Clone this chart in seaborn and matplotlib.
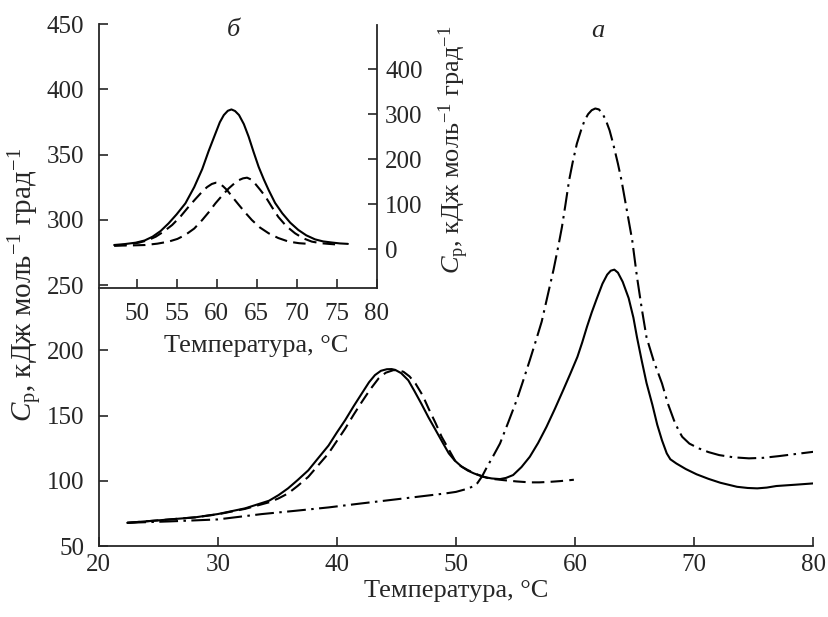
import numpy as np
import pandas as pd
import matplotlib
matplotlib.use("Agg")
import matplotlib.pyplot as plt
import seaborn as sns

# ---- main panel (а): heat capacity vs temperature ----
main_solid_t = [22.4, 25.3, 28.1, 30.0, 32.3, 34.3, 35.1, 35.9, 36.7, 37.6, 38.4, 39.3,
                40.0, 40.7, 41.4, 42.1, 42.7, 43.2, 43.7, 44.2, 44.6, 44.9, 45.4, 46.0,
                46.5, 47.1, 47.7, 48.3, 48.9, 49.4, 49.9, 50.5, 51.0, 51.5, 52.3, 53.0,
                53.7, 54.2, 54.8, 55.5, 56.2, 56.9, 57.6, 58.3, 59.0, 59.6, 60.2, 60.6,
                61.0, 61.4, 61.8, 62.3, 62.7, 63.0, 63.3, 63.6, 64.0, 64.5, 64.9, 65.2,
                65.6, 66.0, 66.5, 66.9, 67.3, 67.7, 68.0, 68.5, 69.3, 70.2, 71.2, 72.2,
                73.6, 74.5, 75.3, 76.1, 76.9, 78.5, 80.0]
main_solid_cp = [67.8, 69.9, 72.0, 74.5, 78.9, 84.7, 89.0, 94.2, 100.5, 108.0, 117.0, 127.0,
                 137.0, 146.5, 157.0, 167.0, 175.5, 181.0, 184.3, 185.5, 185.6, 185.0, 182.5, 177.0,
                 169.0, 159.0, 148.5, 138.8, 129.0, 121.0, 115.5, 110.7, 107.8, 105.7, 103.0, 101.8,
                 101.3, 102.2, 104.4, 110.5, 118.4, 129.0, 141.3, 155.0, 169.4, 182.0, 195.0, 206.0,
                 218.0, 229.0, 239.0, 251.0, 258.0, 261.0, 261.8, 259.5, 252.5, 240.0, 225.0, 210.0,
                 192.0, 175.0, 158.0, 143.0, 131.0, 121.0, 116.5, 113.3, 109.0, 105.0, 101.5, 98.5,
                 95.4, 94.5, 94.2, 94.8, 96.0, 97.0, 98.0]

main_dash_t = [22.4, 25.3, 28.1, 30.0, 32.3, 34.3, 35.1, 35.9, 36.7, 37.6, 38.4, 39.3,
               40.0, 40.7, 41.4, 42.1, 42.8, 43.5, 44.1, 44.75, 45.2, 45.6, 46.1, 46.6,
               47.2, 47.7, 48.3, 48.8, 49.4, 49.9, 50.4, 51.0, 51.8, 52.6, 53.3, 54.0,
               55.1, 56.2, 57.0, 57.9, 58.8, 59.9]
main_dash_cp = [67.8, 69.9, 72.0, 74.3, 78.5, 83.5, 86.5, 90.3, 96.0, 103.0, 111.5, 121.0,
                130.5, 140.0, 150.5, 160.5, 170.0, 178.4, 182.8, 184.8, 184.6, 183.5, 180.0, 174.6,
                165.5, 155.4, 144.0, 133.7, 124.0, 115.8, 111.3, 108.2, 104.8, 102.3, 101.2, 100.5,
                99.5, 98.8, 98.8, 99.2, 99.8, 100.8]

main_dd_t = [22.4, 26.0, 30.0, 33.7, 36.5, 39.3, 42.0, 44.9, 47.0, 49.1, 50.0, 50.6,
             51.0, 51.4, 51.8, 52.2, 52.6, 53.1, 53.7, 54.4, 55.1, 55.6, 56.2, 56.7,
             57.2, 57.7, 58.2, 58.6, 58.9, 59.2, 59.5, 59.8, 60.15, 60.5, 60.8, 61.1,
             61.4, 61.7, 62.0, 62.3, 62.6, 62.9, 63.2, 63.6, 63.9, 64.3, 64.8, 65.2,
             65.6, 66.0, 66.6, 67.3, 67.8, 68.3, 68.7, 69.0, 69.6, 70.4, 71.2, 72.1,
             73.3, 74.6, 75.8, 77.1, 78.5, 80.0]
main_dd_cp = [67.8, 68.9, 70.4, 74.5, 77.0, 79.6, 82.6, 85.7, 88.0, 90.3, 91.5, 93.0,
              94.0, 95.6, 98.2, 103.5, 110.5, 118.5, 128.6, 145.0, 161.8, 175.5, 192.4, 207.0,
              222.0, 242.0, 262.0, 280.0, 294.5, 312.0, 330.2, 344.0, 358.3, 368.5, 376.2, 381.0,
              384.0, 385.3, 384.6, 381.5, 376.0, 368.5, 358.3, 343.0, 330.2, 309.8, 284.3, 256.3,
              232.0, 210.0, 192.0, 174.6, 159.0, 146.5, 138.5, 133.7, 128.5, 124.8, 122.0, 119.7,
              118.0, 117.2, 117.6, 118.9, 120.5, 122.2]

# ---- inset (б): total excess heat capacity and its two components ----
ins_solid_t = [47.2, 48.5, 49.9, 51.0, 52.0, 53.0, 54.0, 55.0, 56.1, 57.2, 58.2, 59.0,
               59.85, 60.4, 60.9, 61.4, 61.85, 62.3, 62.8, 63.4, 64.0, 64.6, 65.25, 65.9,
               66.5, 67.3, 68.2, 69.2, 70.2, 71.2, 72.3, 73.3, 74.4, 75.4, 76.4]
ins_solid_cp = [9.5, 11.5, 14.7, 19.5, 28.0, 40.5, 57.6, 77.5, 102.0, 138.0, 178.0, 218.0,
                257.0, 282.0, 298.0, 307.5, 310.5, 307.0, 298.0, 278.0, 250.0, 217.0, 183.0, 155.0,
                131.5, 103.0, 80.0, 59.0, 43.0, 31.0, 22.0, 17.5, 15.0, 13.0, 12.0]

ins_dash1_t = [47.2, 48.8, 50.3, 51.4, 52.4, 53.4, 54.45, 55.5, 56.5, 57.4, 58.2, 58.8,
               59.4, 59.9, 60.3, 60.8, 61.3, 62.0, 62.8, 63.6, 64.4, 65.4, 66.5, 67.7,
               69.0, 70.3, 71.5]
ins_dash1_cp = [8.0, 10.5, 14.7, 20.0, 28.0, 39.5, 54.0, 73.0, 94.5, 112.5, 128.0, 138.0,
                145.0, 147.8, 147.0, 140.0, 131.5, 115.5, 98.0, 81.0, 65.0, 48.5, 35.5, 25.0,
                17.0, 13.5, 12.0]

ins_dash2_t = [47.2, 49.2, 51.1, 52.6, 54.0, 55.1, 56.1, 57.2, 58.2, 59.0, 59.85, 60.7,
               61.5, 62.2, 62.8, 63.3, 63.8, 64.3, 64.8, 65.4, 66.1, 66.9, 67.7, 68.7,
               69.8, 70.8, 71.9, 73.0, 74.0, 75.5]
ins_dash2_cp = [8.0, 8.5, 9.5, 12.5, 17.0, 23.0, 32.0, 46.0, 65.0, 82.0, 102.0, 119.5,
                135.0, 146.0, 153.7, 157.5, 159.0, 155.0, 146.0, 133.0, 117.0, 94.0, 72.0, 51.5,
                35.5, 24.5, 17.0, 13.5, 12.0, 10.0]

main_xticks = [20, 30, 40, 50, 60, 70, 80]
main_yticks = [50, 100, 150, 200, 250, 300, 350, 400, 450]
inset_xticks = [50, 55, 60, 65, 70, 75, 80]
inset_yticks = [0, 100, 200, 300, 400]

sns.set_style("ticks")
plt.rcParams["font.family"] = ["Liberation Serif", "DejaVu Serif"]
plt.rcParams["mathtext.fontset"] = "custom"
plt.rcParams["mathtext.rm"] = "Liberation Serif"
plt.rcParams["mathtext.it"] = "Liberation Serif:italic"
plt.rcParams["axes.linewidth"] = 1.3

FS = 18
LFS = 19
LW = 1.5
DASHED = (0, (6, 3))
DASHDOT = (0, (9, 2.6, 1.2, 2.6))
ylabel_text = r"$C_{\mathrm{p}}$, кДж моль$^{-1}$ град$^{-1}$"
xlabel_text = "Температура, °C"

fig = plt.figure(figsize=(8.29, 6.17), dpi=100)
ax = fig.add_axes([0.119, 0.115, 0.862, 0.846])

sns.lineplot(x=main_solid_t, y=main_solid_cp, ax=ax, color="black", lw=LW, sort=False)
sns.lineplot(x=main_dash_t, y=main_dash_cp, ax=ax, color="black", lw=LW, sort=False,
             linestyle=DASHED)
sns.lineplot(x=main_dd_t, y=main_dd_cp, ax=ax, color="black", lw=LW, sort=False,
             linestyle=DASHDOT)

ax.set_xlim(20, 80)
ax.set_ylim(50, 450)
ax.set_xticks(main_xticks)
ax.set_yticks(main_yticks)
ax.tick_params(direction="in", length=6.5, width=1.2, labelsize=FS)
ax.tick_params(axis="x", pad=6)
ax.tick_params(axis="y", pad=10.5)
ax.spines["top"].set_visible(False)
ax.spines["right"].set_visible(False)
ax.set_xlabel(xlabel_text, fontsize=LFS)
ax.set_ylabel(ylabel_text, fontsize=21)
ax.yaxis.set_label_coords(-0.075, 0.50)
ax.xaxis.set_label_coords(0.5, -0.066)
ax.text(61.9, 445, "а", fontsize=LFS, style="italic", ha="center", va="center")

# inset panel sharing the left edge of the main axes
axi = fig.add_axes([0.1189, 0.5332, 0.3355, 0.4263])
axi.patch.set_alpha(0)
sns.lineplot(x=ins_solid_t, y=ins_solid_cp, ax=axi, color="black", lw=LW, sort=False)
sns.lineplot(x=ins_dash1_t, y=ins_dash1_cp, ax=axi, color="black", lw=LW, sort=False,
             linestyle=DASHED)
sns.lineplot(x=ins_dash2_t, y=ins_dash2_cp, ax=axi, color="black", lw=LW, sort=False,
             linestyle=DASHED)
axi.set_xlim(45.25, 80)
axi.set_ylim(-86, 498)
axi.set_xticks(inset_xticks)
axi.set_yticks(inset_yticks)
axi.spines["top"].set_visible(False)
axi.spines["left"].set_visible(False)
axi.yaxis.tick_right()
axi.yaxis.set_label_position("right")
axi.tick_params(direction="in", length=6.5, width=1.2, labelsize=FS, pad=6)
axi.tick_params(axis="x", pad=11)
axi.set_xlabel(xlabel_text, fontsize=LFS)
axi.set_ylabel(ylabel_text, fontsize=LFS)
axi.xaxis.set_label_coords(0.568, -0.18)
axi.yaxis.set_label_coords(1.215, 0.525)
axi.text(62.1, 486, "б", fontsize=LFS, style="italic", ha="center", va="center")

fig.savefig("out.png", dpi=100)
